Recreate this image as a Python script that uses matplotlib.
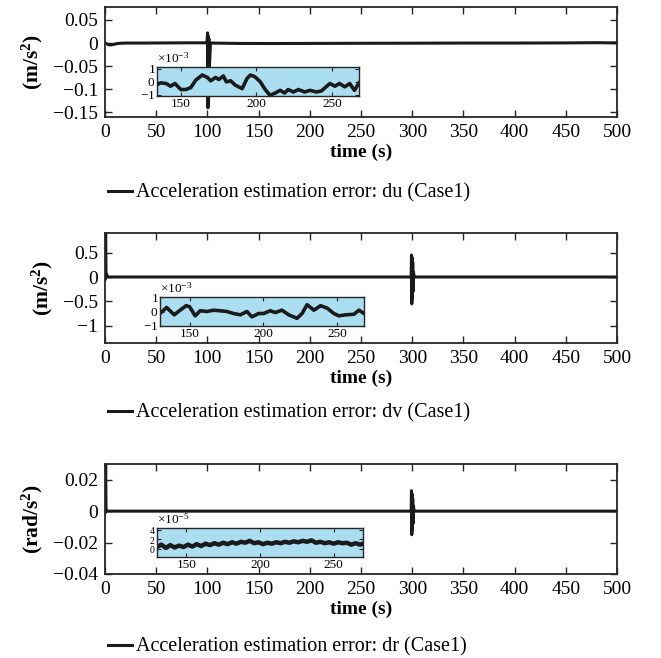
import numpy as np
import matplotlib
matplotlib.use("Agg")
import matplotlib.pyplot as plt
from matplotlib.ticker import ScalarFormatter

plt.rcParams["font.family"] = ["Liberation Serif", "DejaVu Serif"]
plt.rcParams["mathtext.fontset"] = "custom"
plt.rcParams["mathtext.rm"] = "Liberation Serif"
plt.rcParams["mathtext.bf"] = "Liberation Serif:bold"
plt.rcParams["mathtext.it"] = "Liberation Serif:italic"

# ---- main traces (time in s) ----
t_du = [0, 2, 4, 6, 8, 11, 15, 20, 40, 60, 80, 99.5, 100.2, 100.5, 100.8,
        101.1, 101.4, 101.8, 103, 130, 160, 200, 250, 300, 350, 400, 450,
        480, 490, 500]
du = [0, -0.002, -0.004, -0.004, -0.003, -0.0015, -0.0005, 0, 0, 0.0003,
      0.0005, 0.0005, 0.022, -0.14, 0.015, -0.13, 0.01, -0.06, 0, -0.0008,
      -0.001, -0.0008, -0.0005, -0.0003, 0, 0, 0.0003, 0.0008, 0.0005, 0.0005]

t_dv = [0, 0.3, 0.6, 1.0, 1.5, 3, 100, 200, 299.0, 299.3, 299.6, 299.9,
        300.2, 300.5, 300.8, 301.2, 302, 400, 500]
dv = [0.95, -0.05, 0.95, 0.0, 0.05, 0, 0, 0, 0, 0.45, -0.55, 0.4, -0.45,
      0.3, -0.3, 0.1, 0, 0, 0]

t_dr = [0, 0.3, 0.6, 1.0, 2, 100, 200, 299.0, 299.3, 299.6, 299.9, 300.2,
        300.5, 300.8, 301.2, 302, 400, 500]
dr = [0.031, -0.001, 0.031, 0.0, 0, 0, 0, 0, 0.013, -0.015, 0.011, -0.012,
      0.008, -0.008, 0.003, 0, 0, 0]

# ---- zoomed insets ----
t_du_in = [134, 136.6, 140, 143, 145.9, 149.8, 153, 156.4, 159.7, 164, 167.4,
           169.6, 172.9, 175, 178, 180, 182.8, 186, 190.5, 193.7, 196, 199,
           202.5, 205.8, 209, 212.4, 215.7, 218.6, 221, 224.5, 227.8, 232,
           235.5, 239.8, 243, 248.7, 252, 255, 258.6, 261.8, 265, 268]
du_in = [-0.21, -0.08, -0.13, -0.34, -0.13, -0.6, -0.6, -0.45, 0.13, 0.53,
         0.34, 0.08, 0.34, 0.18, 0.45, 0.0, 0.08, -0.26, -0.53, 0.26, 0.53,
         0.39, 0.0, -0.6, -1.05, -0.87, -0.66, -0.87, -0.6, -0.79, -0.6,
         -0.79, -0.66, -0.79, -0.71, -0.13, -0.34, -0.13, -0.39, -0.13,
         -0.66, -0.08]

t_dv_in = [130, 134.5, 139.6, 143.6, 147.7, 150, 153.8, 157.2, 161.7, 166.2,
           170.7, 175.3, 179.8, 184.3, 188.8, 192.2, 196.7, 200.1, 204.6,
           208, 212.5, 217.1, 222.7, 226.1, 229.5, 234.1, 238.6, 243.1,
           247.6, 251, 255.5, 261.2, 264.6, 268]
dv_in = [-0.14, 0.28, -0.23, 0.09, 0.4, 0.33, -0.3, 0.05, 0.0, 0.09, 0.05,
         0.0, -0.14, -0.23, 0.0, -0.37, -0.14, -0.14, 0.05, -0.07, 0.09,
         -0.23, -0.47, -0.14, 0.47, 0.09, 0.4, 0.23, -0.14, -0.3, -0.23,
         -0.19, 0.09, -0.14]

t_dr_in = [130, 133, 136, 139, 142, 145, 148, 151, 154, 157, 160, 163, 166,
           169, 172, 175, 178, 181, 184, 187, 190, 193, 196, 199, 202, 205,
           208, 211, 214, 217, 220, 223, 226, 229, 232, 235, 238, 241, 244,
           247, 250, 253, 256, 259, 262, 265, 268, 270]
dr_in = [0.4, 0.9, 0.2, 0.8, 0.3, 0.7, 0.4, 0.9, 0.5, 1.0, 0.6, 1.1, 0.8,
         1.2, 0.9, 1.3, 1.0, 1.4, 1.1, 1.5, 1.3, 1.7, 1.2, 1.4, 1.0, 1.3,
         1.1, 1.4, 1.2, 1.5, 1.3, 1.6, 1.4, 1.7, 1.5, 1.8, 1.3, 1.5, 1.2,
         1.4, 1.1, 1.4, 1.2, 1.3, 0.9, 1.2, 0.9, 1.1]

panels = [
    dict(t=t_du, y=du, ylim=(-0.16, 0.078), yticks=[-0.15, -0.1, -0.05, 0, 0.05],
         yticklabels=["\u22120.15", "\u22120.1", "\u22120.05", "0", "0.05"],
         ylabel=r"$\mathbf{(m/s^2)}$", name="du",
         ti=t_du_in, yi=du_in, iscale=1e-3, ixlim=(134, 268),
         iylim=(-1.1e-3, 1.15e-3), iyticks=[-1e-3, 0, 1e-3], iysize=9.5,
         top=7, bottom=117, inset=(157, 359, 67, 96), leg=193),
    dict(t=t_dv, y=dv, ylim=(-1.35, 0.9), yticks=[-1, -0.5, 0, 0.5],
         yticklabels=["\u22121", "\u22120.5", "0", "0.5"],
         ylabel=r"$\mathbf{(m/s^2)}$", name="dv",
         ti=t_dv_in, yi=dv_in, iscale=1e-3, ixlim=(130, 268),
         iylim=(-1.0e-3, 1.0e-3), iyticks=[-1e-3, 0, 1e-3], iysize=9.5,
         top=233, bottom=343, inset=(160, 364, 297, 326), leg=413),
    dict(t=t_dr, y=dr, ylim=(-0.04, 0.03), yticks=[-0.04, -0.02, 0, 0.02],
         yticklabels=["\u22120.04", "\u22120.02", "0", "0.02"],
         ylabel=r"$\mathbf{(rad/s^2)}$", name="dr",
         ti=t_dr_in, yi=dr_in, iscale=1e-5, ixlim=(130, 270),
         iylim=(-1.7e-5, 4.4e-5), iyticks=[0, 2e-5, 4e-5], iysize=7,
         top=464, bottom=574, inset=(157, 363, 528, 557), leg=647),
]

W, H = 661, 658
fig = plt.figure(figsize=(W / 100, H / 100), dpi=100)

spine_col = "#262626"
line_col = "#1a1a1a"
x_left, x_right = 105, 617

for p in panels:
    ax = fig.add_axes([x_left / W, 1 - p["bottom"] / H,
                       (x_right - x_left) / W, (p["bottom"] - p["top"]) / H])
    line, = ax.plot(p["t"], p["y"], color=line_col, lw=2.2,
                    label=f"Acceleration estimation error: {p['name']} (Case1)")
    ax.set_xlim(0, 500)
    ax.set_ylim(*p["ylim"])
    ax.set_xticks(np.arange(0, 501, 50))
    ax.set_yticks(p["yticks"])
    ax.set_yticklabels(p["yticklabels"])
    ax.tick_params(direction="in", top=True, right=True, length=5, width=1,
                   labelsize=14, color=spine_col, pad=5)
    for s in ax.spines.values():
        s.set_linewidth(1.3)
        s.set_color(spine_col)
    ax.set_xlabel("time (s)", fontsize=14, fontweight="bold", labelpad=2)
    ax.set_ylabel(p["ylabel"], fontsize=15.5, labelpad=6)

    # inset with zoomed error
    il, ir, it, ib = p["inset"]
    axi = fig.add_axes([il / W, 1 - ib / H, (ir - il) / W, (ib - it) / H])
    axi.set_facecolor("#ACDEF2")
    axi.plot(p["ti"], np.array(p["yi"]) * p["iscale"], color=line_col,
             lw=3.2 if p["name"] == "dr" else 2.6)
    axi.set_xlim(*p["ixlim"])
    axi.set_ylim(*p["iylim"])
    axi.set_xticks([150, 200, 250])
    axi.set_yticks(p["iyticks"])
    fmt = ScalarFormatter(useMathText=True)
    fmt.set_powerlimits((0, 0))
    axi.yaxis.set_major_formatter(fmt)
    axi.tick_params(direction="in", top=True, right=True, length=3, width=0.8,
                    labelsize=9.5, color=spine_col, pad=1.5)
    axi.tick_params(axis="y", labelsize=p["iysize"], pad=1)
    axi.yaxis.get_offset_text().set_fontsize(9.5)
    for s in axi.spines.values():
        s.set_linewidth(1.0)
        s.set_color(spine_col)

    ax.legend(handles=[line], loc="center left",
              bbox_to_anchor=(108 / W, 1 - p["leg"] / H),
              bbox_transform=fig.transFigure, frameon=False, fontsize=14.5,
              handlelength=1.2, handletextpad=0.2, borderpad=0,
              borderaxespad=0)

fig.savefig("out.png", dpi=100)
